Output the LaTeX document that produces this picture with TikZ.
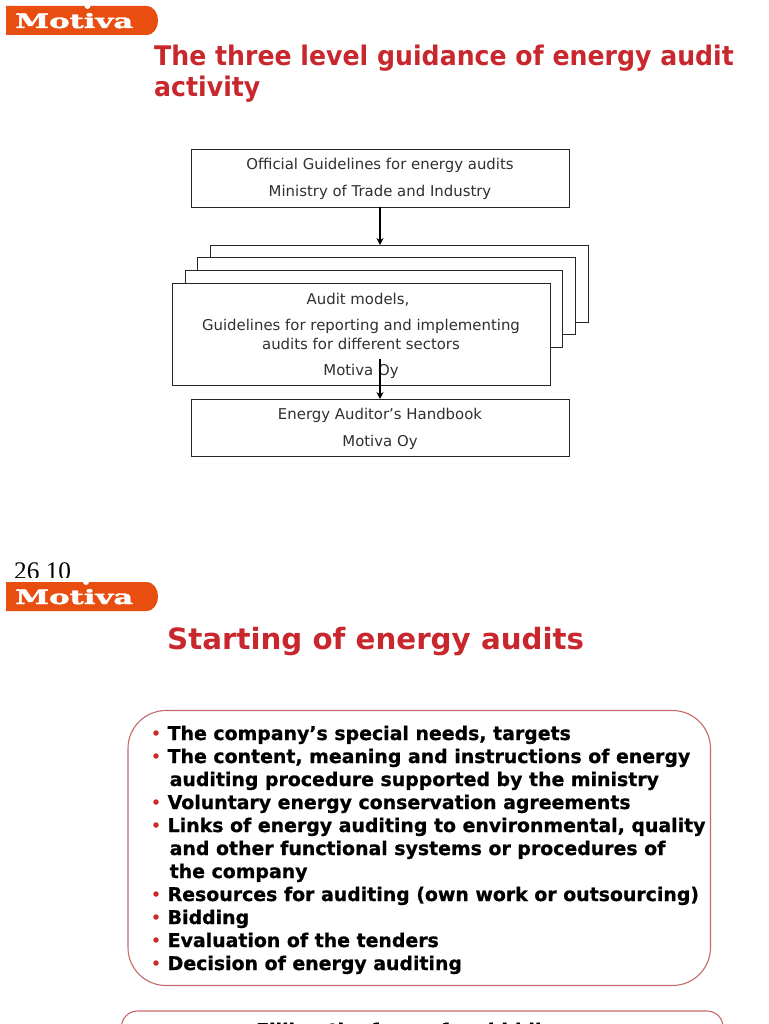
\documentclass[tikz,border=0pt]{standalone}
\usepackage{graphicx}
\usepackage{fontspec}
\setmainfont{DejaVu Sans}
\newfontfamily\timesf{Liberation Serif}
\newfontfamily\logof[BoldFeatures={FakeBold=1.5}]{DejaVu Serif}
\newfontfamily\heavyf[BoldFeatures={FakeBold=0.8}]{DejaVu Sans}
\usetikzlibrary{arrows.meta}
\definecolor{motiva}{HTML}{E84E0F}
\definecolor{headred}{HTML}{C8282D}
\definecolor{boxred}{HTML}{C46A6A}
\definecolor{dotred}{HTML}{CC2A2A}
\definecolor{txt}{HTML}{303030}
\tikzset{
 flowbox/.style={draw=black!85,fill=white,line width=0.9pt,inner sep=0pt,outer sep=0pt},
 boxtext/.style={inner sep=0pt,font=\fontsize{14.9}{17}\selectfont,text=txt,align=center},
 heading/.style={inner sep=0pt,anchor=base west,text=headred},
 bul/.style={inner sep=0pt,anchor=base west,font=\heavyf\fontsize{18.9}{21}\selectfont\bfseries,text=black},
 dot/.style={circle,fill=dotred,inner sep=0pt,minimum size=5.5pt},
 logotext/.style={inner sep=0pt,anchor=base west,text=white,font=\logof\bfseries},
 roundbox/.style={draw=boxred,line width=1.1pt,fill=white,rounded corners=38pt},
 arr/.style={-{Stealth[length=7pt,width=7pt]},line width=1.3pt,black}
}
\begin{document}
\begin{tikzpicture}[x=1pt,y=-1pt]
\useasboundingbox (0,0) rectangle (768,1024);
\fill[white] (0,0) rectangle (768,1024);
% top logo
\path[fill=motiva] (6,6) -- (146,6) .. controls (162,6) and (162,35) .. (146,35) -- (6,35) -- cycle;
\fill[white] (87.5,6) circle (3pt);
\node[logotext] (logoa) at (15,28) {\resizebox{118pt}{15pt}{Motiva}};
\node[heading,font=\fontsize{27}{29}\selectfont\bfseries] (ta) at (154,66) {\scalebox{0.933}[1]{The three level guidance of energy audit}};
\node[heading,font=\fontsize{27}{29}\selectfont\bfseries] (tb) at (154,97) {\scalebox{0.933}[1]{activity}};
% stacked
\draw[flowbox] (210.5,245) rectangle (588.5,322);
\draw[flowbox] (197.5,257) rectangle (575.5,334);
\draw[flowbox] (185,270.5) rectangle (562.5,347);
\node[flowbox,minimum width=378pt,minimum height=102pt,anchor=north west] (mid) at (172,283.5) {};
\node[flowbox,minimum width=378pt,minimum height=57.5pt,anchor=north west] (top) at (191.5,149.5) {};
\node[flowbox,minimum width=378pt,minimum height=57.5pt,anchor=north west] (bot) at (191.5,399) {};
\coordinate (topin) at (380,245);
\coordinate (midout) at (380,359);
\draw[arr] (top.south -| topin) -- (topin);
\node[boxtext] (t1) at (380,165.5) {Official Guidelines for energy audits};
\node[boxtext] (t2) at (380,192.5) {Ministry of Trade and Industry};
\node[boxtext] (t3) at (358,299.5) {Audit models,};
\node[boxtext] (t4) at (361,326) {Guidelines for reporting and implementing};
\node[boxtext] (t5) at (361,344) {audits for different sectors};
\node[boxtext] (t6) at (361,371.5) {Motiva Oy};
\node[boxtext] (t7) at (380,415) {Energy Auditor’s Handbook};
\node[boxtext] (t8) at (380,442) {Motiva Oy};
\draw[arr] (midout) -- (bot.north -| midout);
% date
\begin{scope}
\clip (0,550) rectangle (768,577);
\node[inner sep=0pt,anchor=base west,font=\timesf\fontsize{25.3}{27}\selectfont,text=black] (date) at (14,579) {26 10};
\end{scope}
% second logo
\path[fill=motiva] (6,582) -- (146,582) .. controls (162,582) and (162,611) .. (146,611) -- (6,611) -- cycle;
\fill[white] (86,582) circle (3pt);
\node[logotext] (logob) at (15,604) {\resizebox{118pt}{15pt}{Motiva}};
\node[heading,font=\fontsize{29.3}{31}\selectfont\bfseries] (tc) at (167,649) {Starting of energy audits};
% main rounded box
\draw[roundbox] (128,710.5) rectangle (710.5,985.5);
\foreach \n/\y in {a/733,b/756,c/802,d/825,e/894,f/917,g/940,h/963}{
  \node[dot] (dot\n) at (156,\y) {};
}
\node[bul] at (167.5,740) {The company’s special needs, targets};
\node[bul] at (167.5,763) {The content, meaning and instructions of energy};
\node[bul] at (169.5,786) {auditing procedure supported by the ministry};
\node[bul] at (167.5,809) {Voluntary energy conservation agreements};
\node[bul] at (167.5,832) {Links of energy auditing to environmental, quality};
\node[bul] at (169.5,855) {and other functional systems or procedures of};
\node[bul] at (169.5,878) {the company};
\node[bul] at (167.5,901) {Resources for auditing (own work or outsourcing)};
\node[bul] at (167.5,924) {Bidding};
\node[bul] at (167.5,947) {Evaluation of the tenders};
\node[bul] at (167.5,970) {Decision of energy auditing};
% bottom cut box
\begin{scope}
\clip (0,1000) rectangle (768,1024);
\draw[roundbox,rounded corners=16pt] (121.5,1011) rectangle (723,1080);
\node[bul] (cut) at (256,1037) {Filling the form of an bidding};
\end{scope}
\end{tikzpicture}
\end{document}
